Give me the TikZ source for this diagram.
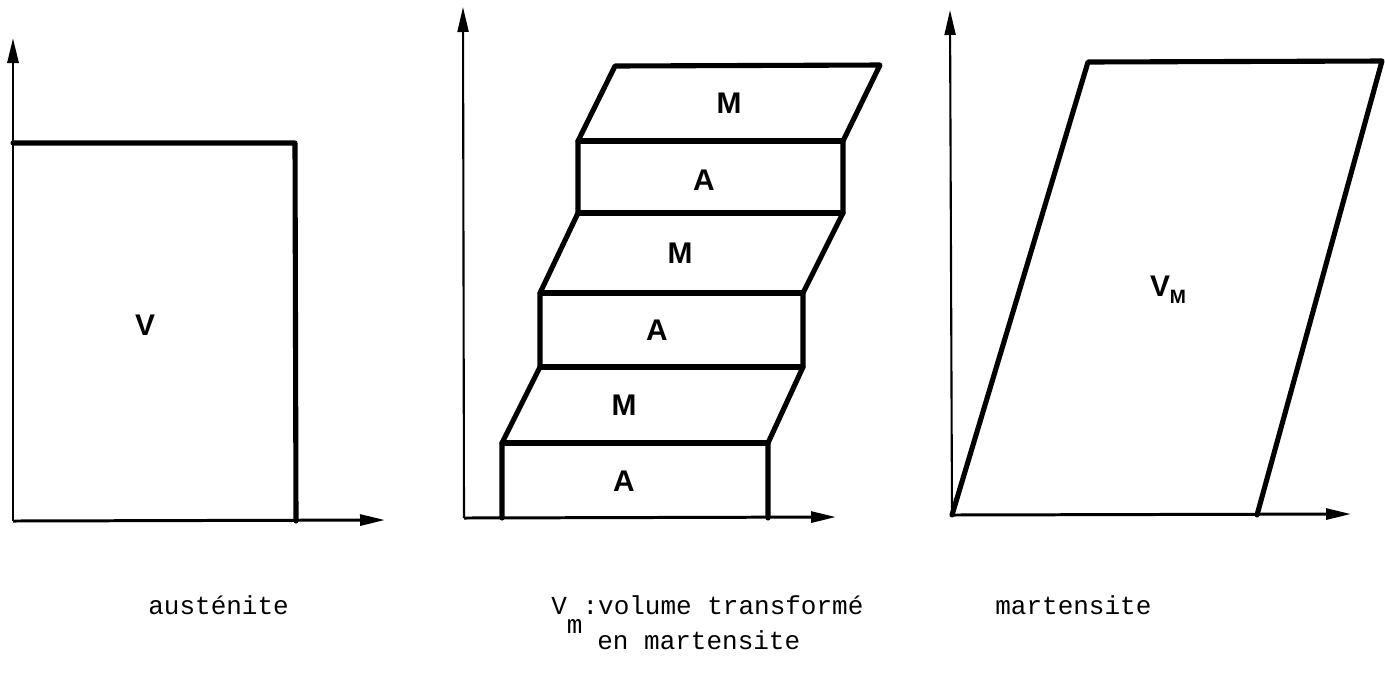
\documentclass[tikz,border=0pt]{standalone}
\usepackage{fontspec}
\setmainfont{Liberation Sans}
\newfontfamily\tw{Liberation Mono}
\usetikzlibrary{arrows.meta}
\begin{document}
\begin{tikzpicture}[x=0.02cm,y=-0.02cm,
  axis/.style={line width=1.7pt,-{Triangle[length=0.5cm,width=0.22cm]}},
  thinaxis/.style={axis,line width=1.2pt},
  wall/.style={line width=2.9pt,line join=round,line cap=round},
  lab/.style={font=\fontsize{17}{20}\selectfont\bfseries,inner sep=0pt},
  capt/.style={font=\tw\fontsize{14.8}{18}\selectfont,inner sep=0pt,anchor=base west}]
\useasboundingbox (0,0) rectangle (1385,691);

% ---------- panel 1 : austenite ----------
\coordinate (o1) at (13,521);
\coordinate (y1) at (13,38);
\coordinate (x1) at (385,520);
\coordinate (a1) at (13,143);
\coordinate (b1) at (295,143);
\coordinate (c1) at (296,521);
\draw[axis] (o1) -- (y1);
\draw[axis] (o1) -- (x1);
\draw[wall] (a1) -- (b1) -- (c1);
\node[lab] (V) at (145,325) {V};

% ---------- panel 2 : mixed ----------
\coordinate (o2) at (464,518);
\coordinate (y2) at (463,7);
\coordinate (x2) at (836,517);
\draw[thinaxis] (o2) -- (y2);
\draw[axis] (o2) -- (x2);
\coordinate (p0L) at (502,518); \coordinate (p0R) at (768,518);
\coordinate (p1L) at (502,443); \coordinate (p1R) at (768,443);
\coordinate (p2L) at (540,367); \coordinate (p2R) at (803,367);
\coordinate (p3L) at (540,293); \coordinate (p3R) at (803,293);
\coordinate (p4L) at (578,213); \coordinate (p4R) at (843,213);
\coordinate (p5L) at (578,141); \coordinate (p5R) at (843,141);
\coordinate (p6L) at (615,66);  \coordinate (p6R) at (880,65);
\draw[wall] (p0L) -- (p1L) -- (p2L) -- (p3L) -- (p4L) -- (p5L) -- (p6L)
  -- (p6R) -- (p5R) -- (p4R) -- (p3R) -- (p2R) -- (p1R) -- (p0R);
\draw[wall] (p1L) -- (p1R);
\draw[wall] (p2L) -- (p2R);
\draw[wall] (p3L) -- (p3R);
\draw[wall] (p4L) -- (p4R);
\draw[wall] (p5L) -- (p5R);
\node[lab] (m3) at (729,103) {M};
\node[lab] (a3) at (704,180) {A};
\node[lab] (m2) at (680,253) {M};
\node[lab] (a2) at (657,330) {A};
\node[lab] (m1) at (624,405) {M};
\node[lab] (a1n) at (624,481) {A};

% ---------- panel 3 : martensite ----------
\coordinate (o3) at (952,515);
\coordinate (y3) at (950,10);
\coordinate (x3) at (1351,514);
\draw[thinaxis] (o3) -- (y3);
\draw[axis] (o3) -- (x3);
\coordinate (q1) at (1088,62);
\coordinate (q2) at (1382,61);
\coordinate (q3) at (1257,515);
\draw[wall] (o3) -- (q1) -- (q2) -- (q3);
\node[lab] (VM) at (1168,290) {V\raisebox{-0.45ex}{\fontsize{11}{13}\selectfont M}};

% ---------- captions ----------
\node[capt] (c1t) at (148,614) {austénite};
\node[capt] (c2t) at (551,614) {V\raisebox{-0.75em}{m}:volume transformé};
\node[capt] (c2b) at (597,649) {en martensite};
\node[capt] (c3t) at (995,614) {martensite};
\end{tikzpicture}
\end{document}
